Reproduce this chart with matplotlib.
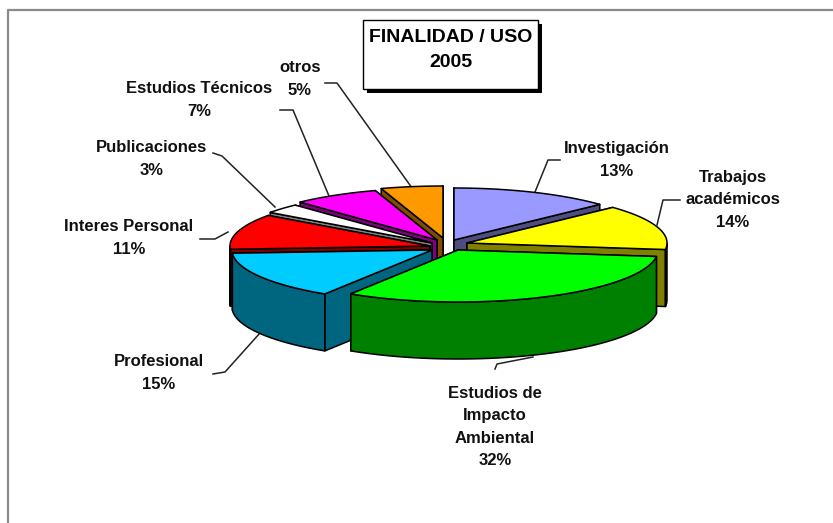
import numpy as np
import matplotlib
matplotlib.use("Agg")
import matplotlib.pyplot as plt
from matplotlib.patches import Polygon, Rectangle

categories = ["Investigación", "Trabajos\nacadémicos", "Estudios de\nImpacto\nAmbiental",
              "Profesional", "Interes Personal", "Publicaciones", "Estudios Técnicos", "otros"]
values = [13, 14, 32, 15, 11, 3, 7, 5]
top_colors = ["#9999FF", "#FFFF00", "#00FF00", "#00CCFF", "#FF0000", "#FFFFFF", "#FF00FF", "#FF9900"]
side_colors = ["#4D4D80", "#808000", "#008000", "#006680", "#800000", "#808080", "#800080", "#804D00"]
title_lines = "FINALIDAD / USO\n2005"

# layout (pixels)
apex = [(454, 240), (467, 243), (458, 250), (432, 250), (430, 246), (432, 243), (437, 240), (443, 238)]
RX, RY, DEPTH = 200, 52, 57
draw_order = [7, 6, 5, 4, 0, 1, 3, 2]
label_pos = [(617, 160), (733, 200), (495, 427), (159, 373), (129, 238), (152, 159), (199, 100), (300, 79)]
leaders = [[(560, 160), (548, 160), (535, 192)],
           [(680, 200), (663, 200), (657, 225)],
           [(495, 369), (497, 364), (533, 357)],
           [(213, 374), (225, 372), (260, 333)],
           [(200, 239), (215, 239), (228, 232)],
           [(213, 153), (222, 156), (275, 207)],
           [(280, 110), (293, 110), (329, 196)],
           [(325, 83), (337, 83), (412, 188)]]

fig = plt.figure(figsize=(8.33, 5.23), dpi=100)
ax = fig.add_axes([0, 0, 1, 1])
ax.set_xlim(0, 833); ax.set_ylim(523, 0); ax.axis("off")
plt.rcParams["font.family"] = "Liberation Sans"

ax.plot([8, 8, 833], [523, 9.5, 9.5], color="#8a8a8a", lw=1.6, zorder=1)

fractions = np.cumsum([0] + values) / sum(values)
angles = fractions * 2 * np.pi
z = 10

def pt(c, a):
    return c[0] + RX * np.sin(a), c[1] - RY * np.cos(a)

for i in draw_order:
    c = apex[i]
    a0, a1 = angles[i], angles[i + 1]
    t = np.linspace(a0, a1, 80)
    xs, ys = pt(c, t)
    walls = []
    for a in (a0, a1):
        x, y = pt(c, a)
        walls.append(([c[0], x, x, c[0]], [c[1], y, y + DEPTH, c[1] + DEPTH]))
    front = t[(t >= np.pi / 2) & (t <= 3 * np.pi / 2)]
    if len(front) > 1:
        fx, fy = pt(c, front)
        walls.append((np.r_[fx, fx[::-1]], np.r_[fy, fy[::-1] + DEPTH]))
    walls.sort(key=lambda w: np.mean(w[1]))
    for wx, wy in walls:
        ax.add_patch(Polygon(np.c_[wx, wy], closed=True, fc=side_colors[i], ec="black",
                             lw=1.1, joinstyle="round", zorder=z))
        z += 1
    ax.add_patch(Polygon(np.c_[np.r_[c[0], xs], np.r_[c[1], ys]], closed=True, fc=top_colors[i],
                         ec="black", lw=1.1, joinstyle="round", zorder=z))
    z += 1

for cat, v, (lx, ly), line in zip(categories, values, label_pos, leaders):
    ax.text(lx, ly, f"{cat}\n{v}%", ha="center", va="center", fontsize=12, fontweight="bold",
            family="Liberation Sans", color="#111111", linespacing=1.62, zorder=200)
    lpts = np.array(line)
    ax.plot(lpts[:, 0], lpts[:, 1], color="#222222", lw=1.1, zorder=5)

ax.add_patch(Rectangle((367, 24), 175, 69, fc="black", ec="none", zorder=100))
ax.add_patch(Rectangle((363.5, 20), 175, 69, fc="white", ec="black", lw=1, zorder=101))
ax.text(451, 50, title_lines, ha="center", va="center", fontsize=14, fontweight="bold",
        family="Liberation Sans", color="black", linespacing=1.6, zorder=102)

fig.savefig("out.png", dpi=100)
